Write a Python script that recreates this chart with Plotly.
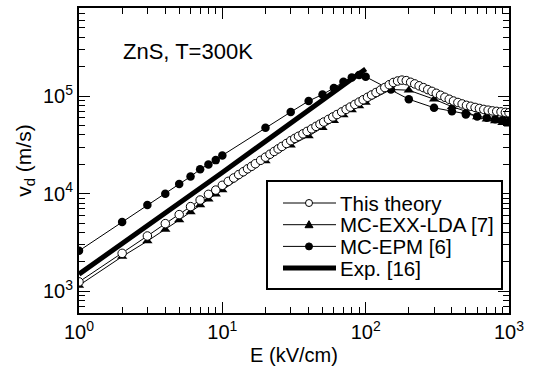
import plotly.graph_objects as go

# ---- data ----
theory_E = [1, 2, 3, 4, 5, 6, 7, 8, 9, 10, 11, 12, 13, 14, 15, 16, 17, 18.5, 20, 21.5,
            23, 24.5, 26, 28, 30, 32, 34, 36.5, 39, 42, 45, 48, 51, 55, 59, 63, 68, 73,
            78, 84, 90, 96, 103, 110, 118, 127, 136, 146, 156, 167, 179, 192, 206, 220,
            236, 253, 271, 290, 311, 333, 357, 383, 410, 440, 471, 505, 541, 580, 622,
            667, 715, 766, 821, 880, 943, 1000]
theory_v = [1250, 2450, 3690, 4940, 6110, 7380, 8620, 9860, 10900, 12200, 13400, 14500,
            15700, 16800, 18000, 19100, 20300, 22000, 23700, 25400, 27100, 28800, 30500,
            32700, 35000, 36900, 38800, 41100, 43500, 46200, 49000, 51600, 54300, 57800,
            61200, 64700, 68900, 73100, 77300, 82200, 86900, 91800, 97300, 102800, 108900,
            115600, 122500, 130900, 138000, 142900, 145900, 144200, 138700, 133400, 127600,
            122200, 116700, 111900, 106900, 102100, 97300, 92900, 89100, 86100, 83200,
            80500, 78700, 76600, 74800, 73100, 71800, 70600, 69800, 69000, 68200, 67600]

lda_E = [1, 2, 3, 4, 5, 6, 7, 8, 9, 10, 20, 30, 40, 50, 60, 70, 80, 90, 100,
         150, 200, 300, 400, 500, 600, 700, 800, 900, 1000]
lda_v = [1150, 2270, 3270, 4310, 5380, 6500, 7660, 8800, 9900, 10900, 21600, 31300,
         39000, 47500, 56000, 64000, 72000, 79000, 86000, 117000, 115000, 93000, 78000,
         70000, 61000, 58000, 55500, 53500, 51500]

epm_E = [1, 2, 3, 4, 5, 6, 7, 8, 9, 10, 20, 30, 40, 50, 60, 70, 80, 90, 100,
         150, 200, 300, 400, 500, 600, 700, 800, 900, 1000]
epm_v = [2600, 5130, 7660, 10000, 12600, 15000, 17800, 19900, 22100, 24700, 47500,
         68700, 89100, 104000, 121000, 140000, 155000, 165000, 158000, 117000, 93000,
         76000, 70000, 65000, 62000, 60000, 58000, 56500, 55000]

exp_E = [1, 10, 100]
exp_v = [1500, 16500, 190000]

names = ["This theory", "MC-EXX-LDA [7]", "MC-EPM [6]", "Exp. [16]"]

xtick_vals = [1, 10, 100, 1000]
xtick_text = ["10<sup>0</sup>", "10<sup>1</sup>", "10<sup>2</sup>", "10<sup>3</sup>"]
ytick_vals = [1e3, 1e4, 1e5]
ytick_text = ["10<sup>3</sup>", "10<sup>4</sup>", "10<sup>5</sup>"]

FONT = "Liberation Sans, Arial, Helvetica, sans-serif"

# ---- styles ----
styles = [
    dict(mode="lines+markers", line=dict(color="black", width=1),
         marker=dict(symbol="circle", size=8.5, color="white",
                     line=dict(color="black", width=1))),
    dict(mode="lines+markers", line=dict(color="black", width=1),
         marker=dict(symbol="triangle-up", size=9, color="black")),
    dict(mode="lines+markers", line=dict(color="black", width=1),
         marker=dict(symbol="circle", size=8.5, color="black")),
    dict(mode="lines", line=dict(color="black", width=5)),
]
series = [(theory_E, theory_v), (lda_E, lda_v), (epm_E, epm_v), (exp_E, exp_v)]

fig = go.Figure()
for i in [3, 2, 1, 0]:
    xs, ys = series[i]
    fig.add_trace(go.Scatter(x=xs, y=ys, name=names[i], showlegend=False, **styles[i]))

axis_common = dict(
    type="log", showgrid=False, zeroline=False, showline=True, linecolor="black",
    linewidth=2, mirror="ticks", ticks="inside", ticklen=11, tickwidth=1.3,
    tickcolor="black", tickfont=dict(family=FONT, size=20, color="black"),
    minor=dict(ticks="inside", ticklen=6, tickwidth=1.1, tickcolor="black",
               dtick="D1", showgrid=False),
)

fig.update_xaxes(**axis_common, range=[0, 3], tickvals=xtick_vals, ticktext=xtick_text,
                 title=dict(text="E (kV/cm)", font=dict(family=FONT, size=20, color="black"),
                            standoff=6))
fig.update_yaxes(**axis_common, range=[2.778, 5.903], tickvals=ytick_vals,
                 ticktext=ytick_text,
                 title=dict(text="v<sub>d</sub> (m/s)",
                            font=dict(family=FONT, size=21, color="black"), standoff=6))

fig.add_annotation(text="ZnS, T=300K", xref="paper", yref="paper", x=0.098, y=0.859,
                   xanchor="left", yanchor="middle", showarrow=False,
                   font=dict(family=FONT, size=22, color="black"))

# ---- legend (drawn as a boxed key in paper coordinates) ----
PW, PH = 430.0, 305.0          # plot area size in px
def px_x(dx):
    return dx / PW
def px_y(dy):
    return dy / PH

box_x0, box_x1 = px_x(188), px_x(423)
box_y1, box_y0 = px_y(132), px_y(24)
fig.add_shape(type="rect", xref="paper", yref="paper", x0=box_x0, x1=box_x1,
              y0=box_y0, y1=box_y1, line=dict(color="black", width=2),
              fillcolor="white", layer="above")

row_top = 110.0     # px above plot bottom for first row
row_gap = 21.7
line_x0, line_x1 = px_x(204), px_x(257)
mid_x = px_x(230)
text_x = px_x(259)
for i, name in enumerate(names):
    yy = px_y(row_top - i * row_gap)
    lw = styles[i]["line"]["width"]
    fig.add_shape(type="line", xref="paper", yref="paper", x0=line_x0, x1=line_x1,
                  y0=yy, y1=yy, line=dict(color="black", width=lw), layer="above")
    mk = styles[i].get("marker")
    if mk is not None:
        if mk["symbol"] == "circle":
            fig.add_shape(type="circle", xref="paper", yref="paper",
                          xsizemode="pixel", ysizemode="pixel",
                          xanchor=mid_x, yanchor=yy, x0=-3.5, x1=3.5, y0=-3.5, y1=3.5,
                          fillcolor=mk["color"], line=dict(color="black", width=1),
                          layer="above")
        else:
            fig.add_shape(type="path", xref="paper", yref="paper",
                          xsizemode="pixel", ysizemode="pixel",
                          xanchor=mid_x, yanchor=yy,
                          path="M -4 -3 L 4 -3 L 0 4 Z",
                          fillcolor="black", line=dict(color="black", width=1),
                          layer="above")
    fig.add_annotation(text=name, xref="paper", yref="paper", x=text_x, y=yy,
                       xanchor="left", yanchor="middle", showarrow=False,
                       font=dict(family=FONT, size=20.5, color="black"))

fig.update_layout(
    width=541, height=376,
    margin=dict(l=79, r=32, t=8, b=63, autoexpand=False),
    paper_bgcolor="white", plot_bgcolor="white",
    font=dict(family=FONT, color="black"),
    showlegend=False,
)

fig.write_html("out.html")
